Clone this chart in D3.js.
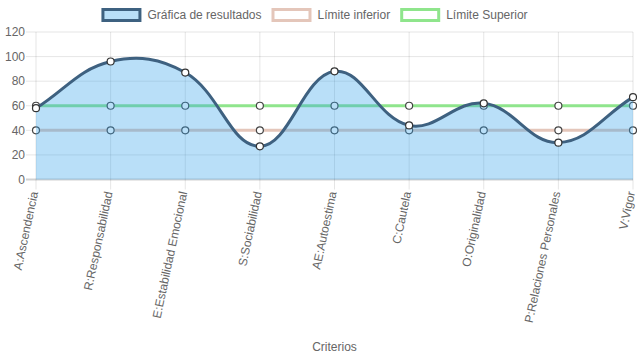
<!DOCTYPE html>
<html><head><meta charset="utf-8">
<script src="https://cdn.jsdelivr.net/npm/d3@7/dist/d3.min.js"></script>
<style>html,body{margin:0;padding:0;background:#fff;}svg{display:block;}</style>
</head><body><svg id="c" width="637" height="359"></svg>
<script>
const categories = ["A:Ascendencia","R:Responsabilidad","E:Estabilidad Emocional","S:Sociabilidad","AE:Autoestima","C:Cautela","O:Originalidad","P:Relaciones Personales","V:Vigor"];
const resultados = [58, 96, 87, 27, 88, 44, 62, 30, 67];
const limiteInferior = [40, 40, 40, 40, 40, 40, 40, 40, 40];
const limiteSuperior = [60, 60, 60, 60, 60, 60, 60, 60, 60];
const yTicks = [0, 20, 40, 60, 80, 100, 120];
const seriesNames = ["Gráfica de resultados", "Límite inferior", "Límite Superior"];

(function () {
const W = 637, H = 359;
const pLeft = 36, pRight = 633, pTop = 32, pBottom = 179.5;
const font = "'Liberation Sans', Arial, Helvetica, sans-serif";
const txt = "#666";
const svg = d3.select("#c");

const x = d3.scalePoint().domain(categories).range([pLeft, pRight]).padding(0);
const y = d3.scaleLinear().domain([0, 120]).range([pBottom, pTop]);

// grid
const g = svg.append("g");
yTicks.forEach(t => {
  if (t === 0) return;
  g.append("line").attr("x1", pLeft - 10).attr("x2", pRight).attr("y1", y(t)).attr("y2", y(t))
    .attr("stroke", "rgba(0,0,0,0.1)").attr("stroke-width", 1);
});
categories.forEach(c => {
  g.append("line").attr("x1", x(c)).attr("x2", x(c)).attr("y1", pTop).attr("y2", pBottom + 10)
    .attr("stroke", "rgba(0,0,0,0.1)").attr("stroke-width", 1);
});
g.append("line").attr("x1", pLeft - 10).attr("x2", pRight).attr("y1", y(0)).attr("y2", y(0))
  .attr("stroke", "rgba(0,0,0,0.18)").attr("stroke-width", 2);

// y labels
yTicks.forEach(t => {
  svg.append("text").attr("x", pLeft - 11).attr("y", y(t)).attr("dy", "0.35em")
    .attr("text-anchor", "end").attr("font-family", font).attr("font-size", 12)
    .attr("fill", txt).text(t);
});
// x labels
categories.forEach(c => {
  svg.append("text").attr("transform", `translate(${x(c) - 2},${pBottom + 12}) rotate(-78)`)
    .attr("dy", "0.35em").attr("text-anchor", "end").attr("font-family", font)
    .attr("font-size", 12).attr("fill", txt).text(c);
});
svg.append("text").attr("x", (pLeft + pRight) / 2).attr("y", 347).attr("dy", "0.35em")
  .attr("text-anchor", "middle").attr("font-family", font).attr("font-size", 12)
  .attr("fill", txt).text("Criterios");

// Chart.js style spline
function splinePath(pts, tension) {
  const cps = pts.map((p, i) => {
    const prev = pts[i - 1] || p, next = pts[i + 1] || p;
    const d01 = Math.hypot(p[0] - prev[0], p[1] - prev[1]);
    const d12 = Math.hypot(next[0] - p[0], next[1] - p[1]);
    let s01 = d01 / (d01 + d12), s12 = d12 / (d01 + d12);
    if (isNaN(s01)) s01 = 0; if (isNaN(s12)) s12 = 0;
    const fa = tension * s01, fb = tension * s12;
    return {
      prev: [p[0] - fa * (next[0] - prev[0]), p[1] - fa * (next[1] - prev[1])],
      next: [p[0] + fb * (next[0] - prev[0]), p[1] + fb * (next[1] - prev[1])]
    };
  });
  const path = d3.path();
  path.moveTo(pts[0][0], pts[0][1]);
  for (let i = 1; i < pts.length; i++) {
    const a = cps[i - 1].next, b = cps[i].prev;
    path.bezierCurveTo(a[0], a[1], b[0], b[1], pts[i][0], pts[i][1]);
  }
  return path.toString();
}

function drawSeries(vals, color, width, fill, pointStroke) {
  const pts = vals.map((v, i) => [x(categories[i]), y(v)]);
  const d = splinePath(pts, 0.4);
  if (fill) {
    svg.append("path").attr("d", d + `L${pts[pts.length-1][0]},${y(0)}L${pts[0][0]},${y(0)}Z`)
      .attr("fill", fill).attr("stroke", "none");
  }
  svg.append("path").attr("d", d).attr("fill", "none").attr("stroke", color).attr("stroke-width", width);
  svg.selectAll(null).data(pts).enter().append("circle")
    .attr("cx", p => p[0]).attr("cy", p => p[1]).attr("r", 3.5)
    .attr("fill", "#fff").attr("stroke", pointStroke).attr("stroke-width", 1.2);
}

const cRes = "#3e6180", cResFill = "rgba(54,162,235,0.35)";
const cLow = "#e4c6ba", cUp = "#8fe58c";
drawSeries(limiteSuperior, cUp, 3, null, "#444");
drawSeries(limiteInferior, cLow, 3, null, "#444");
drawSeries(resultados, cRes, 3, cResFill, "#333");

// legend
const legendColors = [
  {stroke: cRes, fill: "rgba(54,162,235,0.35)"},
  {stroke: cLow, fill: "#fff"},
  {stroke: cUp, fill: "#fff"}
];
const lg = svg.append("g");
const widths = seriesNames.map(n => {
  const t = lg.append("text").attr("font-family", font).attr("font-size", 12).text(n);
  const w = t.node().getComputedTextLength(); t.remove(); return w;
});
const itemW = widths.map(w => 40 + 6 + w);
const total = d3.sum(itemW) + 10 * (itemW.length - 1);
let lx = (W - total) / 2 - 4;
seriesNames.forEach((n, i) => {
  lg.append("rect").attr("x", lx + 1.5).attr("y", 9.5).attr("width", 37).attr("height", 11)
    .attr("fill", legendColors[i].fill).attr("stroke", legendColors[i].stroke).attr("stroke-width", 3);
  lg.append("text").attr("x", lx + 46).attr("y", 15).attr("dy", "0.35em")
    .attr("font-family", font).attr("font-size", 12).attr("fill", txt).text(n);
  lx += itemW[i] + 10;
});
})();
</script></body></html>
